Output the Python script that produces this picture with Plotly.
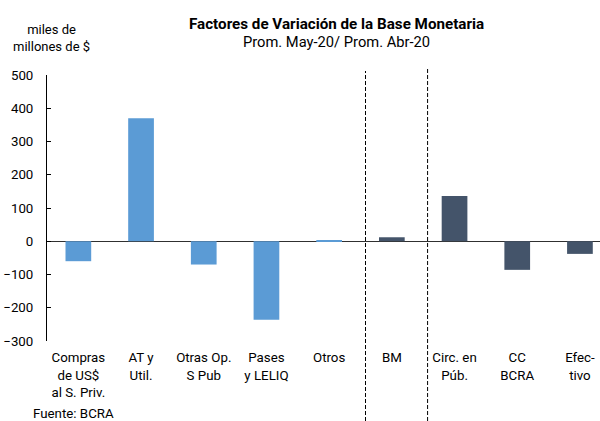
import plotly.graph_objects as go

categories = ["Compras<br>de US$<br>al S. Priv.", "AT y<br>Util.", "Otras Op.<br>S Pub", "Pases<br>y LELIQ",
              "Otros", "BM", "Circ. en<br>Púb.", "CC<br>BCRA", "Efec-<br>tivo"]
values = [-60, 370, -70, -236, 3, 12, 136, -86, -38]
light = "#5B9BD5"
dark = "#44546A"
colors = [light] * 5 + [dark] * 4

L, R, T, B = 47, 0, 75, 80
W, H = 600, 421
pw, ph = W - L - R, H - T - B
def px(x): return (x - L) / pw
def py(y): return 1 - (y - T) / ph

fig = go.Figure()
fig.add_trace(go.Bar(x=list(range(len(categories))), y=values, marker_color=colors,
                     marker_line_width=0, width=0.41))

fig.update_layout(
    width=W, height=H,
    margin=dict(l=L, r=R, t=T, b=B, autoexpand=False),
    plot_bgcolor="white", paper_bgcolor="white",
    font=dict(family="Roboto", size=13, color="#000000"),
    showlegend=False,
)
fig.update_xaxes(range=[-0.5, 8.32], tickmode="array", tickvals=list(range(len(categories))),
                 ticktext=categories, showline=False, showgrid=False, zeroline=False,
                 ticks="", tickfont=dict(size=13.3), automargin=False, ticklabelstandoff=7)
fig.update_yaxes(range=[-300, 500], dtick=100, showline=True, linecolor="#000000", linewidth=1,
                 ticks="inside", ticklen=4, tickcolor="#000000", showgrid=False,
                 zeroline=True, zerolinecolor="#303030", zerolinewidth=1, tickfont=dict(size=13.3),
                 automargin=False, ticklabelstandoff=10)

for xv, ytop in [(4.58, 71), (5.57, 68)]:
    fig.add_shape(type="line", xref="x", yref="paper", x0=xv, x1=xv, y0=py(421), y1=py(ytop),
                  line=dict(color="#000000", width=1, dash="4px,2px"))

fig.add_annotation(text="<b>Factores de Variación de la Base Monetaria</b>", xref="paper", yref="paper",
                   x=px(336), y=py(24), xanchor="center", yanchor="middle", showarrow=False,
                   font=dict(size=15.2))
fig.add_annotation(text="Prom. May-20/ Prom. Abr-20", xref="paper", yref="paper",
                   x=px(336), y=py(42), xanchor="center", yanchor="middle", showarrow=False,
                   font=dict(size=14.7))
fig.add_annotation(text="miles de<br>millones de $", xref="paper", yref="paper",
                   x=px(51), y=py(38), xanchor="center", yanchor="middle", showarrow=False,
                   font=dict(size=13))
fig.add_annotation(text="Fuente: BCRA", xref="paper", yref="paper",
                   x=px(31), y=py(413), xanchor="left", yanchor="middle", showarrow=False,
                   font=dict(size=13.3))

fig.write_html("out.html", config={"displayModeBar": False},
               post_script="document.body.style.margin='0';document.body.style.overflow='hidden';")
